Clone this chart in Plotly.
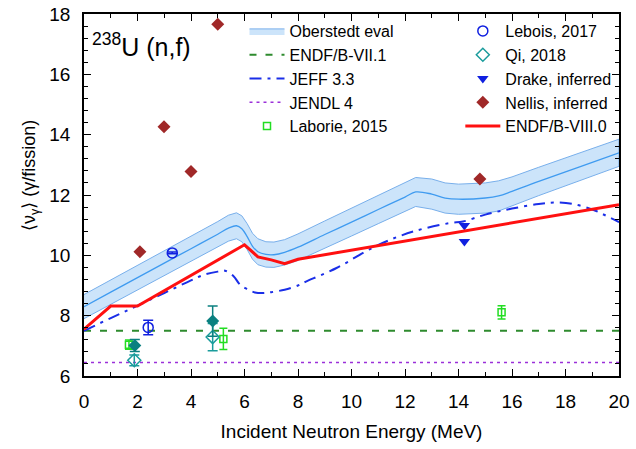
import plotly.graph_objects as go

# ---------------- data ----------------
ob_x = [0, 1, 2, 3, 4, 5, 5.4, 5.7, 5.9, 6.1, 6.3, 6.5, 6.8, 7.1, 7.5, 8, 9, 10, 11, 12, 12.4,
        13, 13.5, 14, 15, 15.5, 16, 17, 18, 19, 20]
ob_y = [8.3, 8.78, 9.26, 9.74, 10.22, 10.7, 10.9, 10.98, 10.88, 10.62, 10.3, 10.12, 10.03, 10.02,
        10.1, 10.27, 10.69, 11.1, 11.52, 11.93, 12.1, 12.03, 11.9, 11.86, 11.9, 11.97, 12.12,
        12.45, 12.77, 13.08, 13.4]
ob_err = [0.4, 0.4, 0.4, 0.4, 0.42, 0.42, 0.43, 0.43, 0.43, 0.43, 0.43, 0.43, 0.42, 0.42,
          0.42, 0.44, 0.45, 0.46, 0.47, 0.48, 0.48, 0.5, 0.5, 0.5, 0.5, 0.5, 0.48, 0.47,
          0.46, 0.45, 0.45]

endf7_x = [0, 20]
endf7_y = [7.5, 7.5]

jendl_x = [0, 20]
jendl_y = [6.45, 6.45]

jeff_x = [0, 1, 2, 3, 4, 4.5, 5.0, 5.27, 5.6, 5.83, 6.1, 6.39, 6.7, 7.0, 7.5, 8.0, 8.2, 9.44,
          10.94, 12.31, 13.68, 14.17, 15, 16, 17, 17.6, 18.3, 19, 19.5, 20]
jeff_y = [7.5, 7.92, 8.33, 8.75, 9.17, 9.36, 9.46, 9.49, 9.3, 9.03, 8.88, 8.77, 8.75, 8.78,
          8.86, 9.0, 9.09, 9.58, 10.32, 10.79, 11.07, 11.12, 11.35, 11.55, 11.7, 11.75,
          11.7, 11.52, 11.32, 11.1]

endf8_x = [0, 1, 2, 6, 6.5, 7.0, 7.5, 8.0, 20]
endf8_y = [7.55, 8.32, 8.32, 10.35, 9.95, 9.85, 9.72, 9.87, 11.68]

laborie_x = [1.68, 5.21, 15.61]
laborie_y = [7.04, 7.23, 8.11]
laborie_e = [0.15, 0.35, 0.22]

lebois_x = [2.4, 3.3]
lebois_y = [7.61, 10.08]
lebois_e = [0.24, 0.03]

qi_x = [1.88, 4.81]
qi_y = [6.52, 7.29]
qi_e = [0.18, 0.45]

qi2_x = [1.9, 4.81]
qi2_y = [7.01, 7.82]
qi2_e = [0.2, 0.5]

drake_x = [14.22, 14.22]
drake_y = [10.99, 10.46]

nellis_x = [2.09, 2.99, 4.0, 5.0, 14.8]
nellis_y = [10.12, 14.26, 12.78, 17.66, 12.53]

FONT = "Liberation Sans, Arial, Helvetica, sans-serif"

fig = go.Figure()

# Oberstedt band
band_x = ob_x + ob_x[::-1]
band_y = [y + e for y, e in zip(ob_y, ob_err)] + [y - e for y, e in zip(ob_y, ob_err)][::-1]
fig.add_trace(go.Scatter(x=band_x, y=band_y, fill="toself", fillcolor="rgba(204,228,250,1)",
                         line=dict(color="rgba(120,175,235,1)", width=1), mode="lines",
                         name="Oberstedt eval", legend="legend", hoverinfo="skip"))
fig.add_trace(go.Scatter(x=ob_x, y=ob_y, mode="lines", line=dict(color="#3f9bf0", width=1.3),
                         showlegend=False, line_shape="spline"))

fig.add_trace(go.Scatter(x=endf7_x, y=endf7_y, mode="lines", name="ENDF/B-VII.1",
                         line=dict(color="#2e8b2e", width=2, dash="7px,9px"), legend="legend"))
fig.add_trace(go.Scatter(x=jeff_x, y=jeff_y, mode="lines", name="JEFF 3.3",
                         line=dict(color="#1a2ee8", width=2, dash="12px,6px,3px,6px"),
                         line_shape="spline", legend="legend"))
fig.add_trace(go.Scatter(x=jendl_x, y=jendl_y, mode="lines", name="JENDL 4",
                         line=dict(color="#9b30d9", width=1.5, dash="3px,4px"), legend="legend"))
fig.add_trace(go.Scatter(x=laborie_x, y=laborie_y, mode="markers", name="Laborie, 2015",
                         marker=dict(symbol="square-open", size=7, color="#22dd22",
                                     line=dict(width=1.5)),
                         error_y=dict(type="data", array=laborie_e, color="#22dd22",
                                      thickness=1.5, width=4), legend="legend"))

fig.add_trace(go.Scatter(x=lebois_x, y=lebois_y, mode="markers", name="Lebois, 2017",
                         marker=dict(symbol="circle-open", size=10, color="#1020e0",
                                     line=dict(width=1.5)),
                         error_y=dict(type="data", array=lebois_e, color="#1020e0",
                                      thickness=1.5, width=5), legend="legend2"))
fig.add_trace(go.Scatter(x=qi_x, y=qi_y, mode="markers", name="Qi, 2018",
                         marker=dict(symbol="diamond-open", size=10, color="#1a9c9c",
                                     line=dict(width=1.5)),
                         error_y=dict(type="data", array=qi_e, color="#1a9c9c",
                                      thickness=1.5, width=5), legend="legend2"))
fig.add_trace(go.Scatter(x=qi2_x, y=qi2_y, mode="markers", showlegend=False,
                         marker=dict(symbol="diamond", size=10, color="#0b8080"),
                         error_y=dict(type="data", array=qi2_e, color="#0b8080",
                                      thickness=1.5, width=5)))
fig.add_trace(go.Scatter(x=drake_x, y=drake_y, mode="markers", name="Drake, inferred",
                         marker=dict(symbol="triangle-down", size=10, color="#1020e0"),
                         legend="legend2"))
fig.add_trace(go.Scatter(x=nellis_x, y=nellis_y, mode="markers", name="Nellis, inferred",
                         marker=dict(symbol="diamond", size=10, color="#a02828"),
                         legend="legend2"))
fig.add_trace(go.Scatter(x=endf8_x, y=endf8_y, mode="lines", name="ENDF/B-VIII.0",
                         line=dict(color="#ff1010", width=3), legend="legend2"))

axis_common = dict(showline=True, linecolor="black", linewidth=1.5, mirror="allticks",
                   ticks="inside", ticklen=7, tickwidth=1, tickcolor="black",
                   showgrid=False, zeroline=False,
                   tickfont=dict(family=FONT, size=19, color="black"))

fig.update_xaxes(range=[0, 20], dtick=2, tick0=0,
                 minor=dict(dtick=1, ticks="inside", ticklen=4, tickcolor="black"),
                 title=dict(text="Incident Neutron Energy (MeV)",
                            font=dict(family=FONT, size=19, color="black"), standoff=14),
                 ticklabelstandoff=7, **axis_common)
fig.update_yaxes(range=[6, 18], dtick=2, tick0=6,
                 minor=dict(dtick=0.4, ticks="inside", ticklen=4, tickcolor="black"),
                 ticklabelstandoff=8, **axis_common)

legend_common = dict(font=dict(family=FONT, size=16, color="black"), bgcolor="rgba(0,0,0,0)",
                     tracegroupgap=0, itemwidth=35, yanchor="top")
fig.update_layout(
    width=636, height=449,
    margin=dict(l=84, r=17, t=14, b=73, autoexpand=False),
    paper_bgcolor="white", plot_bgcolor="white",
    legend=dict(x=0.3, y=1.0, xanchor="left", **legend_common),
    legend2=dict(x=0.995, y=1.0, xanchor="right", **legend_common),
    annotations=[
        dict(text="<sup>238</sup>U (n,f)", x=0.012, y=0.965, xref="paper",
             yref="paper", xanchor="left", yanchor="top", showarrow=False,
             font=dict(family=FONT, size=25, color="black")),
        dict(text="⟨ν<sub>γ</sub>⟩ (γ/fission)", x=-0.101, y=0.555, xref="paper",
             yref="paper", xanchor="center", yanchor="middle", textangle=-90,
             showarrow=False, font=dict(family=FONT, size=18, color="black")),
    ],
)

fig.write_html("out.html")
